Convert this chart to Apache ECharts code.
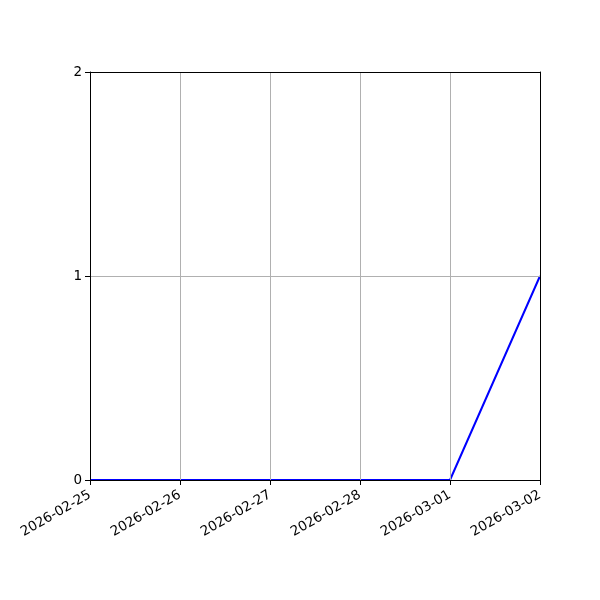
<!DOCTYPE html>
<html>
<head>
<meta charset="utf-8">
<script src="https://cdn.jsdelivr.net/npm/echarts@6/dist/echarts.min.js"></script>
<style>html,body{margin:0;padding:0;background:#fff;}#c{width:600px;height:600px;}</style>
</head>
<body>
<div id="c"></div>
<script>
var categories = ['2026-02-25','2026-02-26','2026-02-27','2026-02-28','2026-03-01','2026-03-02'];
var values = [0, 0, 0, 0, 0, 1];
var yTicks = [0, 1, 2];

var chart = echarts.init(document.getElementById('c'), null, {renderer: 'canvas'});
var font = 'DejaVu Sans';
var spine = {show: true, onZero: false, lineStyle: {color: '#000', width: 1}};
chart.setOption({
  animation: false,
  backgroundColor: '#ffffff',
  grid: {left: 90, right: 60, top: 72, bottom: 120},
  xAxis: [{
    type: 'category',
    data: categories,
    boundaryGap: false,
    axisLine: spine,
    axisTick: {show: true, inside: false, length: 5, alignWithLabel: true, lineStyle: {color: '#000'}},
    axisLabel: {rotate: 30, color: '#000', fontFamily: font, fontSize: 13.5, margin: 14, interval: 0},
    splitLine: {show: true, showMinLine: false, showMaxLine: false, lineStyle: {color: '#b0b0b0', width: 1}},
    z: 10
  }, {
    type: 'category',
    data: categories,
    boundaryGap: false,
    position: 'top',
    axisLine: spine,
    axisTick: {show: false},
    axisLabel: {show: false},
    splitLine: {show: false},
    z: 10
  }],
  yAxis: [{
    type: 'value',
    min: yTicks[0],
    max: yTicks[yTicks.length - 1],
    interval: 1,
    axisLine: spine,
    axisTick: {show: true, inside: false, length: 5, lineStyle: {color: '#000'}},
    axisLabel: {color: '#000', fontFamily: font, fontSize: 13.5, margin: 8},
    splitLine: {show: true, showMinLine: false, showMaxLine: false, lineStyle: {color: '#b0b0b0', width: 1}},
    z: 10
  }, {
    type: 'value',
    min: yTicks[0],
    max: yTicks[yTicks.length - 1],
    interval: 1,
    position: 'right',
    axisLine: spine,
    axisTick: {show: false},
    axisLabel: {show: false},
    splitLine: {show: false},
    z: 10
  }],
  series: [{
    type: 'line',
    data: values,
    symbol: 'none',
    lineStyle: {color: '#0000ff', width: 2},
    itemStyle: {color: '#0000ff'},
    z: 5
  }]
});
</script>
</body>
</html>
